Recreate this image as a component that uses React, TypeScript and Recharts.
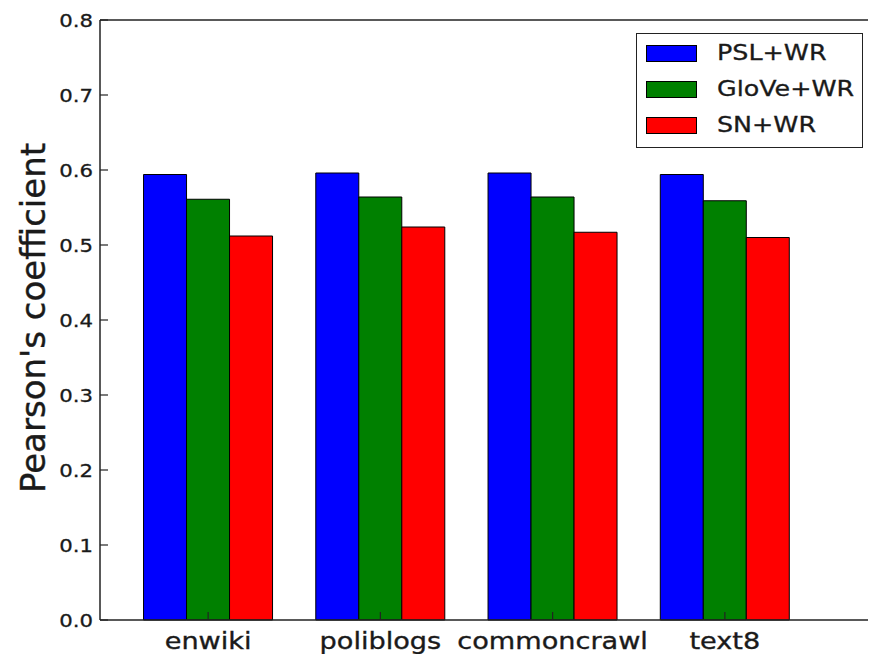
import { BarChart, Bar, XAxis, YAxis, Legend } from "recharts";

const categories = ["enwiki", "poliblogs", "commoncrawl", "text8"];
const pslWr = [0.594, 0.596, 0.596, 0.594];
const gloveWr = [0.561, 0.564, 0.564, 0.559];
const snWr = [0.512, 0.524, 0.517, 0.51];
const yTicks = [0, 0.1, 0.2, 0.3, 0.4, 0.5, 0.6, 0.7, 0.8];

const series = [
  { key: "psl", name: "PSL+WR", color: "#0000ff" },
  { key: "glove", name: "GloVe+WR", color: "#008000" },
  { key: "sn", name: "SN+WR", color: "#ff0000" },
];

const data = categories.map((c, i) => ({
  name: c,
  psl: pslWr[i],
  glove: gloveWr[i],
  sn: snWr[i],
}));

const FONT = "DejaVu Sans";
const STRETCH = 1.18;
const INK = "#1a1a1a";

const YTick = ({ x, y, payload }: any) => (
  <text
    transform={`translate(${x},${y + 6.5}) scale(${STRETCH},1)`}
    textAnchor="end"
    fontSize={18}
    fontFamily={FONT}
    fill={INK}
    stroke={INK}
    strokeWidth={0.3}
  >
    {Number(payload.value).toFixed(1)}
  </text>
);

const XTick = ({ x, y, payload }: any) => (
  <text
    transform={`translate(${x},${y + 37}) scale(${STRETCH},1)`}
    textAnchor="middle"
    fontSize={23}
    fontFamily={FONT}
    fill={INK}
    stroke={INK}
    strokeWidth={0.35}
  >
    {payload.value}
  </text>
);

const YLabel = () => (
  <text
    transform="translate(45,318) rotate(-90)"
    textAnchor="middle"
    fontSize={34}
    fontFamily={FONT}
    fill={INK}
    stroke={INK}
    strokeWidth={0.4}
  >
    Pearson's coefficient
  </text>
);

const LegendBox = () => (
  <div
    style={{
      boxSizing: "border-box",
      width: 227,
      height: 115,
      border: "1px solid #222",
      background: "#fff",
      paddingTop: 1,
      fontFamily: FONT,
    }}
  >
    {series.map((s) => (
      <div
        key={s.key}
        style={{ height: 36, display: "flex", alignItems: "center" }}
      >
        <div
          style={{
            boxSizing: "border-box",
            marginLeft: 9,
            width: 51,
            height: 17,
            background: s.color,
            border: "1px solid #000",
          }}
        />
        <span
          style={{
            marginLeft: 20,
            fontSize: 21.5,
            lineHeight: 1,
            color: INK,
            WebkitTextStroke: `0.3px ${INK}`,
            display: "inline-block",
            transform: `scaleX(${STRETCH})`,
            transformOrigin: "left center",
            whiteSpace: "nowrap",
          }}
        >
          {s.name}
        </span>
      </div>
    ))}
  </div>
);

export default function App() {
  return (
    <div style={{ position: "absolute", left: 0, top: 0, background: "#fff" }}>
      <BarChart
        width={869}
        height={654}
        data={data}
        margin={{ top: 0, right: 0, bottom: 0, left: 0 }}
        barCategoryGap="12.5%"
        barGap={0}
      >
        <XAxis
          xAxisId="bottom"
          dataKey="name"
          orientation="bottom"
          height={34}
          padding={{ left: 22, right: 57 }}
          axisLine={{ stroke: "#222", strokeWidth: 1.5 }}
          tickLine={{ stroke: "#222", strokeWidth: 1.2 }}
          tickSize={-8}
          tickMargin={0}
          tick={<XTick />}
          interval={0}
        />
        <XAxis
          xAxisId="top"
          dataKey="name"
          orientation="top"
          height={20}
          padding={{ left: 22, right: 57 }}
          axisLine={{ stroke: "#222", strokeWidth: 1.5 }}
          tickLine={{ stroke: "#222", strokeWidth: 1.2 }}
          tickSize={-8}
          tick={false}
          interval={0}
        />
        <YAxis
          yAxisId="left"
          orientation="left"
          width={100}
          type="number"
          domain={[0, 0.8]}
          ticks={yTicks}
          interval={0}
          axisLine={{ stroke: "#222", strokeWidth: 1.5 }}
          tickLine={{ stroke: "#222", strokeWidth: 1.2 }}
          tickSize={-8}
          tickMargin={15}
          tick={<YTick />}
          label={<YLabel />}
        />
        <YAxis
          yAxisId="right"
          orientation="right"
          width={1}
          type="number"
          domain={[0, 0.8]}
          ticks={yTicks}
          interval={0}
          axisLine={false}
          tickLine={{ stroke: "#222", strokeWidth: 1.2 }}
          tickSize={-3}
          tick={false}
        />
        <Legend
          layout="vertical"
          align="center"
          verticalAlign="middle"
          content={<LegendBox />}
          wrapperStyle={{ top: 33, left: 636, width: 227 }}
        />
        {series.map((s) => (
          <Bar
            key={s.key}
            xAxisId="bottom"
            yAxisId="left"
            dataKey={s.key}
            name={s.name}
            fill={s.color}
            stroke="#000"
            strokeWidth={1}
            isAnimationActive={false}
          />
        ))}
      </BarChart>
    </div>
  );
}
